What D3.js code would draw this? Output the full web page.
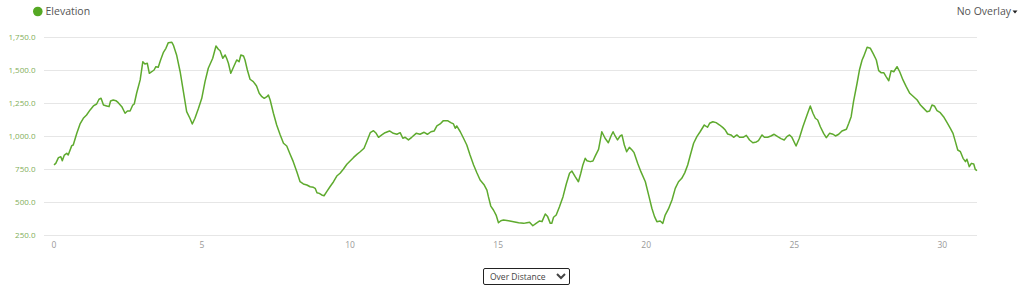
<!DOCTYPE html>
<head>
<meta charset="utf-8">
<style>
body { margin: 0; background: #fff; font-family: "Open Sans", sans-serif; }
.grid line { stroke: #e6e6e6; stroke-width: 1px; }
.ylab { font-size: 8px; fill: #7fae5a; text-anchor: end; }
.xlab { font-size: 8.5px; fill: #999; text-anchor: middle; }
.elev { fill: none; stroke: #5eaa2e; stroke-width: 1.5px; stroke-linejoin: round; }
.head { font-size: 10.5px; fill: #555; }
#mode { position: absolute; left: 483px; top: 268px; width: 87px; height: 17px;
        font: 8.5px "Open Sans", sans-serif; color: #444; border: 1px solid #222;
        border-radius: 2px; background: #fff; padding: 0 2px; }
</style>
</head>
<body>

<svg width="1024" height="293"></svg>
<select id="mode"><option>Over Distance</option></select>
<script src="https://cdn.jsdelivr.net/npm/d3@7"></script>
<script>

// distance (km) and elevation (m)
var dist = [0, 0.06, 0.15, 0.23, 0.28, 0.35, 0.43, 0.48, 0.6, 0.65, 0.77, 0.88, 0.99, 1.1, 1.22, 1.33,
  1.44, 1.52, 1.59, 1.67, 1.78, 1.86, 1.91, 2.0, 2.09, 2.17, 2.29, 2.4, 2.48, 2.57, 2.66, 2.71,
  2.79, 2.91, 3.0, 3.07, 3.15, 3.22, 3.3, 3.38, 3.44, 3.52, 3.6, 3.69, 3.78, 3.86, 3.98, 4.03,
  4.14, 4.26, 4.37, 4.48, 4.59, 4.67, 4.76, 4.88, 4.99, 5.1, 5.21, 5.36, 5.47, 5.55, 5.61, 5.7,
  5.78, 5.83, 5.89, 5.97, 6.06, 6.17, 6.25, 6.31, 6.4, 6.45, 6.53, 6.62, 6.73, 6.84, 6.93, 7.02,
  7.1, 7.19, 7.24, 7.3, 7.41, 7.52, 7.64, 7.75, 7.86, 7.97, 8.08, 8.2, 8.31, 8.42, 8.54, 8.65,
  8.76, 8.82, 8.88, 8.96, 9.04, 9.12, 9.21, 9.32, 9.44, 9.55, 9.66, 9.77, 9.89, 10.0, 10.11,
  10.23, 10.34, 10.47, 10.56, 10.68, 10.79, 10.88, 10.96, 11.07, 11.18, 11.33, 11.46, 11.58,
  11.69, 11.78, 11.86, 11.97, 12.08, 12.23, 12.36, 12.5, 12.61, 12.73, 12.84, 12.93, 13.04,
  13.15, 13.29, 13.4, 13.49, 13.55, 13.6, 13.72, 13.83, 13.94, 14.05, 14.17, 14.28, 14.39,
  14.53, 14.62, 14.67, 14.75, 14.84, 14.93, 15.01, 15.09, 15.18, 15.35, 15.52, 15.69, 15.86,
  15.97, 16.06, 16.17, 16.28, 16.4, 16.48, 16.59, 16.67, 16.76, 16.81, 16.87, 16.96, 17.07,
  17.19, 17.3, 17.41, 17.49, 17.6, 17.71, 17.79, 17.86, 17.94, 18.0, 18.11, 18.2, 18.28, 18.39,
  18.45, 18.5, 18.61, 18.72, 18.81, 18.88, 18.95, 19.03, 19.12, 19.18, 19.26, 19.34, 19.43,
  19.52, 19.59, 19.71, 19.82, 19.97, 20.08, 20.19, 20.28, 20.36, 20.47, 20.56, 20.64, 20.75,
  20.87, 20.98, 21.09, 21.2, 21.3, 21.4, 21.49, 21.6, 21.71, 21.82, 21.96, 22.07, 22.14, 22.25,
  22.36, 22.48, 22.59, 22.67, 22.75, 22.86, 22.95, 23.06, 23.15, 23.27, 23.38, 23.49, 23.6,
  23.72, 23.79, 23.91, 23.99, 24.1, 24.21, 24.32, 24.44, 24.55, 24.66, 24.75, 24.84, 24.92,
  25.06, 25.17, 25.29, 25.43, 25.54, 25.63, 25.71, 25.79, 25.88, 25.99, 26.08, 26.19, 26.31,
  26.39, 26.5, 26.61, 26.76, 26.84, 26.92, 27.0, 27.12, 27.2, 27.29, 27.34, 27.46, 27.57,
  27.66, 27.77, 27.85, 27.93, 28.02, 28.1, 28.19, 28.27, 28.36, 28.47, 28.56, 28.67, 28.78,
  28.9, 29.03, 29.15, 29.26, 29.37, 29.48, 29.57, 29.65, 29.73, 29.82, 29.93, 30.04, 30.16,
  30.27, 30.36, 30.44, 30.52, 30.61, 30.7, 30.78, 30.83, 30.91, 30.98, 31.06, 31.11, 31.17];

var elev = [780, 792, 835, 842, 812, 855, 868, 855, 926, 931, 1019, 1090, 1133, 1158, 1196, 1226,
  1241, 1277, 1284, 1233, 1226, 1221, 1264, 1271, 1266, 1251, 1221, 1171, 1188, 1188, 1233, 1241,
  1322, 1423, 1561, 1544, 1549, 1473, 1485, 1498, 1523, 1519, 1574, 1629, 1662, 1705, 1708, 1687,
  1612, 1485, 1334, 1183, 1133, 1090, 1133, 1208, 1284, 1410, 1511, 1587, 1680, 1655, 1644, 1587,
  1612, 1587, 1549, 1473, 1519, 1574, 1561, 1612, 1604, 1574, 1498, 1428, 1410, 1377, 1322, 1296,
  1284, 1296, 1309, 1271, 1171, 1082, 1007, 944, 923, 863, 805, 729, 653, 636, 628, 615,
  611, 603, 570, 565, 553, 547, 578, 615, 653, 696, 717, 747, 785, 810, 835,
  860, 880, 906, 956, 1024, 1039, 1019, 989, 1007, 1024, 1037, 1019, 1012,
  1024, 982, 989, 969, 989, 1019, 1012, 1027, 1012, 1031, 1037, 1075, 1090,
  1115, 1115, 1100, 1090, 1057, 1075, 1031, 982, 931, 855, 780, 721, 666,
  628, 590, 540, 469, 439, 401, 343, 358, 363, 358, 351, 343, 338,
  343, 346, 320, 338, 356, 351, 409, 389, 338, 338, 384, 401, 464,
  540, 636, 717, 734, 691, 653, 717, 780, 830, 812, 805, 810, 848, 898,
  969, 1031, 982, 948, 999, 1031, 999, 969, 999, 1007, 931, 880, 913,
  893, 873, 792, 729, 653, 553, 452, 389, 351, 356, 338, 401, 447,
  515, 603, 653, 679, 720, 780, 855, 944, 994, 1031, 1082, 1065, 1095, 1107,
  1100, 1082, 1062, 1044, 1014, 1007, 989, 1007, 989, 989, 1004, 969, 948,
  954, 964, 1007, 989, 989, 999, 1012, 994, 979, 969, 994, 1007, 989,
  923, 982, 1069, 1158, 1226, 1171, 1133, 1120, 1069, 1019, 986, 1019, 1012,
  999, 1012, 1037, 1050, 1095, 1145, 1259, 1398, 1498, 1574, 1599, 1670, 1662,
  1624, 1574, 1493, 1478, 1478, 1448, 1417, 1493, 1485, 1523, 1485, 1423, 1372,
  1322, 1296, 1271, 1233, 1208, 1183, 1188, 1233, 1226, 1190, 1175, 1145, 1100,
  1057, 1019, 956, 893, 880, 830, 805, 823, 767, 792, 787, 747, 737];

var yTicks = [250, 500, 750, 1000, 1250, 1500, 1750];
var xTicks = [0, 5, 10, 15, 20, 25, 30];

var svg = d3.select("svg");

var x = d3.scaleLinear().domain([0, 31.17]).range([54, 977]);
var y = d3.scaleLinear().domain([250, 1750]).range([235, 36.7]);

// legend + overlay menu
svg.append("circle").attr("cx", 37.8).attr("cy", 11.5).attr("r", 4.8).attr("fill", "#55a823");
svg.append("text").attr("class", "head").attr("x", 45.5).attr("y", 15.2).text("Elevation");
svg.append("text").attr("class", "head").attr("x", 1011).attr("y", 15.2)
    .attr("text-anchor", "end").text("No Overlay");
svg.append("path").attr("d", "M1012.5,10.5 L1017.5,10.5 L1015,13.5 Z").attr("fill", "#222");

// grid
svg.append("g").attr("class", "grid").selectAll("line")
    .data(yTicks).enter().append("line")
    .attr("x1", x(0) - 10).attr("x2", x(31.17))
    .attr("y1", function(d) { return Math.round(y(d)) + 0.5; })
    .attr("y2", function(d) { return Math.round(y(d)) + 0.5; });

var fmt = d3.format(",.1f");
svg.selectAll(".ylab").data(yTicks).enter().append("text")
    .attr("class", "ylab").attr("x", 35.5)
    .attr("y", function(d) { return y(d) + 3; })
    .text(function(d) { return fmt(d); });

svg.selectAll(".xlab").data(xTicks).enter().append("text")
    .attr("class", "xlab").attr("y", 248)
    .attr("x", function(d) { return x(d); })
    .text(function(d) { return d; });

var line = d3.line()
    .x(function(d, i) { return x(dist[i]); })
    .y(function(d) { return y(d); });

svg.append("path").datum(elev).attr("class", "elev").attr("d", line);

</script>
</body>
